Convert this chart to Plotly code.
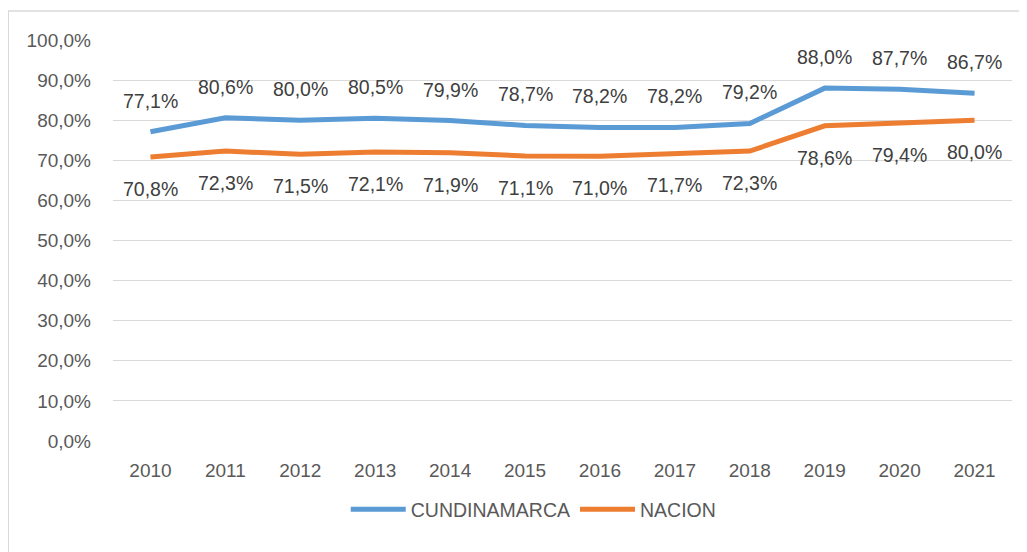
import plotly.graph_objects as go

years = ["2010", "2011", "2012", "2013", "2014", "2015", "2016", "2017", "2018", "2019", "2020", "2021"]
cundinamarca = [77.1, 80.6, 80.0, 80.5, 79.9, 78.7, 78.2, 78.2, 79.2, 88.0, 87.7, 86.7]
nacion = [70.8, 72.3, 71.5, 72.1, 71.9, 71.1, 71.0, 71.7, 72.3, 78.6, 79.4, 80.0]
y_ticks = [0, 10, 20, 30, 40, 50, 60, 70, 80, 90, 100]

BLUE = "#5B9BD5"
ORANGE = "#ED7D31"
TXT = "#595959"
FONT = "Liberation Sans, Arial, sans-serif"


def fmt(v):
    return f"{v:.1f}".replace(".", ",") + "%"


fig = go.Figure()
fig.add_trace(go.Scatter(x=years, y=cundinamarca, mode="lines", name="CUNDINAMARCA",
                         line=dict(color=BLUE, width=5)))
fig.add_trace(go.Scatter(x=years, y=nacion, mode="lines", name="NACION",
                         line=dict(color=ORANGE, width=5)))

for i, v in enumerate(cundinamarca):
    fig.add_annotation(x=i, y=v, xref="x", yref="y", text=fmt(v), showarrow=False, yshift=31,
                       font=dict(size=19.5, color="#404040", family=FONT))
for i, v in enumerate(nacion):
    fig.add_annotation(x=i, y=v, xref="x", yref="y", text=fmt(v), showarrow=False, yshift=-32,
                       font=dict(size=19.5, color="#404040", family=FONT))

fig.add_shape(type="rect", xref="paper", yref="paper", x0=-0.1165, x1=1.3, y0=-0.6, y1=1.0723,
              line=dict(color="#d9d9d9", width=1.5), fillcolor="rgba(0,0,0,0)", layer="below")

fig.update_layout(
    width=1019, height=544,
    margin=dict(l=105, r=15, t=32, b=111),
    paper_bgcolor="white", plot_bgcolor="white",
    font=dict(family=FONT, size=19, color=TXT),
    showlegend=True,
    legend=dict(orientation="h", x=0.468, xanchor="center", y=-0.1225, yanchor="top",
                font=dict(size=19.5, color=TXT), itemwidth=55, tracegroupgap=0),
    xaxis=dict(type="category", range=[-0.5, 11.5], showgrid=False, zeroline=False,
               showline=False, ticks="", ticklabelstandoff=16,
               tickfont=dict(size=19, color=TXT)),
    yaxis=dict(range=[0, 100], tickvals=y_ticks, ticktext=[fmt(v) for v in y_ticks],
               showgrid=True, gridcolor="#d9d9d9", gridwidth=1, zeroline=False,
               showline=False, ticks="", ticklabelstandoff=21,
               tickfont=dict(size=19, color=TXT)),
)

fig.write_html("out.html")
